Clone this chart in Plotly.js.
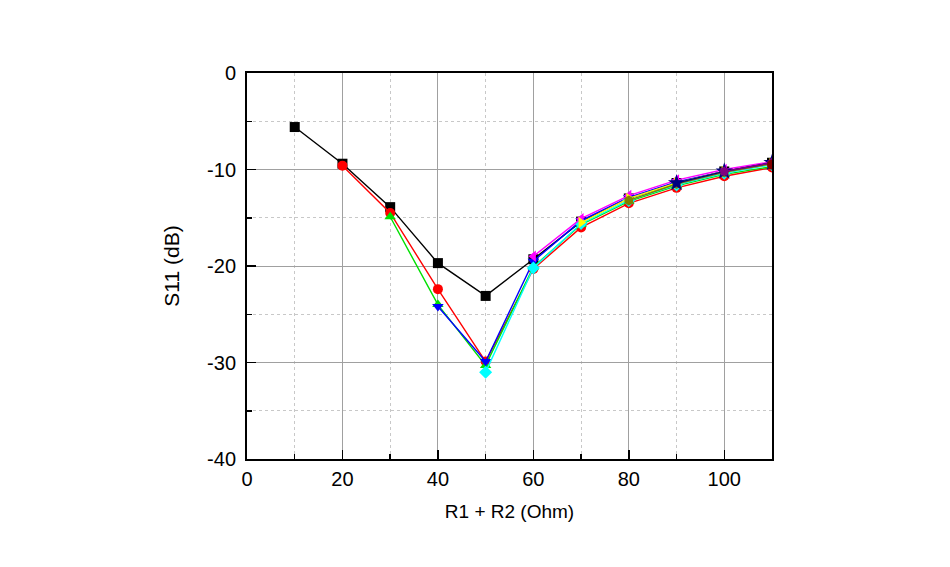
<!DOCTYPE html>
<html><head><meta charset="utf-8">
<script src="https://cdn.plot.ly/plotly-3.0.1.min.js"></script>
<style>html,body{margin:0;padding:0;background:#fff}#chart{width:950px;height:567px}</style>
</head><body><div id="chart"></div>
<script>
const xAll = [10,20,30,40,50,60,70,80,90,100,110];
const sBlack   = [-5.6,-9.4,-13.9,-19.7,-23.1,-19.3,-15.4,-13.0,-11.4,-10.2,-9.3];
const sRed     = [-9.6,-14.5,-22.4,-29.9,-20.3,-16.0,-13.5,-11.9,-10.7,-9.8];
const sGreen   = [-14.9,-24.0,-30.3,-20.1,-15.7,-13.3,-11.7,-10.5,-9.7];
const sBlue    = [-24.2,-29.9,-19.5,-15.3,-12.9,-11.3,-10.2,-9.3];
const sCyan    = [-31.0,-20.2,-15.6,-13.2,-11.6,-10.4,-9.5];
const sMagenta = [-19.0,-15.1,-12.7,-11.1,-10.0,-9.2];
const sYellow  = [-15.5,-13.0,-11.4,-10.2,-9.4];
const sOlive   = [-13.2,-11.5,-10.3,-9.4];
const sNavy    = [-11.4,-10.2,-9.3];
const sPurple  = [-10.2,-9.3];
const sWine    = [-9.5];

const xTickVals = [0,20,40,60,80,100];
const xTickText = ['0','20','40','60','80','100'];
const yTickVals = [0,-10,-20,-30,-40];
const yTickText = ['0','-10','-20','-30','-40'];

const seriesList = [sBlack,sRed,sGreen,sBlue,sCyan,sMagenta,sYellow,sOlive,sNavy,sPurple,sWine];
const colors = ['#000000','#ff0000','#00e000','#0000ff','#00ffff','#ff00ff','#ffff00','#808000','#000080','#800080','#800000'];
const symbols = ['square','circle','triangle-up','triangle-down','diamond','triangle-left','triangle-right','hexagon','star','pentagon','circle'];

const traces = seriesList.map((ys,i)=>({
  x: xAll.slice(xAll.length-ys.length),
  y: ys,
  type:'scatter', mode:'lines+markers',
  line:{color:colors[i], width:1.4},
  marker:{symbol:symbols[i], color:colors[i], size:(symbols[i]==='star'?13:10)},
  showlegend:false
}));

const FONT = 'Liberation Sans, Arial, sans-serif';
const axisCommon = {
  showline:true, linecolor:'#000', linewidth:2, mirror:true,
  ticks:'inside', ticklen:9, tickwidth:1.5, tickcolor:'#000',
  showgrid:true, gridcolor:'#a0a0a0', gridwidth:1,
  zeroline:false, tickmode:'array',
  tickfont:{family:FONT, size:20, color:'#000'}
};

const layout = {
  width:950, height:567,
  margin:{l:247, r:178, t:73, b:108},
  paper_bgcolor:'#fff', plot_bgcolor:'#fff',
  xaxis: Object.assign({}, axisCommon, {
    range:[0,110], tickvals:xTickVals, ticktext:xTickText, ticklabelstandoff:1,
    minor:{tickmode:'linear', tick0:0, dtick:10, ticks:'inside', ticklen:5, tickcolor:'#000', showgrid:true, gridcolor:'#c8c8c8', griddash:'dot', gridwidth:1},
    title:{text:'R1 + R2 (Ohm)', font:{family:FONT, size:19, color:'#000'}, standoff:16}
  }),
  yaxis: Object.assign({}, axisCommon, {
    range:[-40,0], tickvals:yTickVals, ticktext:yTickText, ticklabelstandoff:5,
    minor:{tickmode:'linear', tick0:0, dtick:5, ticks:'inside', ticklen:5, tickcolor:'#000', showgrid:true, gridcolor:'#c8c8c8', griddash:'dot', gridwidth:1},
    title:{text:'S11 (dB)', font:{family:FONT, size:21, color:'#000'}, standoff:22}
  })
};

Plotly.newPlot('chart', traces, layout, {displayModeBar:false, staticPlot:true});
</script></body></html>
